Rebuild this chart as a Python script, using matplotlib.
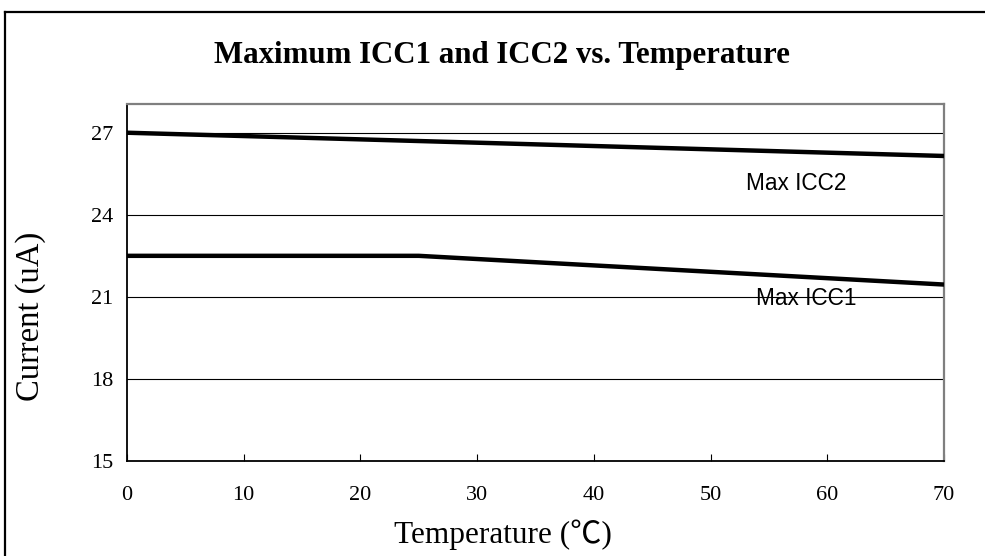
import matplotlib
matplotlib.use("Agg")
import matplotlib.pyplot as plt
from matplotlib.lines import Line2D

# Data
icc1_temps = [0, 25, 70]
icc1_values = [22.5, 22.5, 21.45]
icc2_temps = [0, 70]
icc2_values = [27.0, 26.15]
x_ticks = [0, 10, 20, 30, 40, 50, 60, 70]
y_ticks = [15, 18, 21, 24, 27]

W, H = 985, 556
fig = plt.figure(figsize=(W / 100, H / 100), dpi=100)
fig.patch.set_facecolor("white")

serif = ["Liberation Serif", "DejaVu Serif"]
sans = ["Liberation Sans", "DejaVu Sans"]

ax = fig.add_axes([127 / W, 1 - 461 / H, (944 - 127) / W, (461 - 104) / H])
ax.set_xlim(0, 70)
ax.set_ylim(15, 28.05)

for y in y_ticks[1:]:
    ax.axhline(y, color="black", lw=0.8, zorder=1)

ax.plot(icc2_temps, icc2_values, color="black", lw=3.2, solid_capstyle="butt", zorder=3)
ax.plot(icc1_temps, icc1_values, color="black", lw=3.2, solid_capstyle="butt",
        solid_joinstyle="round", zorder=3)

ax.text(57.3, 25.15, "Max ICC2", fontsize=16.3, family=sans, ha="center", va="center")
ax.text(58.2, 20.95, "Max ICC1", fontsize=16.3, family=sans, ha="center", va="center")

ax.set_xticks(x_ticks)
ax.set_yticks(y_ticks)
ax.set_xticklabels([str(v) for v in x_ticks], family=serif, fontsize=16)
ax.set_yticklabels([str(v) for v in y_ticks], family=serif, fontsize=16)
ax.tick_params(axis="x", direction="in", length=5, width=0.8, pad=18, colors="black")
ax.tick_params(axis="y", length=0, pad=10)

for s in ["left", "bottom"]:
    ax.spines[s].set_color("black")
    ax.spines[s].set_linewidth(1.3)
for s in ["top", "right"]:
    ax.spines[s].set_color("#7f7f7f")
    ax.spines[s].set_linewidth(1.6)

fig.text(502 / W, 1 - 55 / H, "Maximum ICC1 and ICC2 vs. Temperature",
         family=serif, fontsize=22.2, fontweight="bold", ha="center", va="center")
fig.text(503 / W, 1 - 535 / H, "Temperature (\u2103)", family=["Liberation Serif", "Noto Sans CJK TC", "DejaVu Serif"],
         fontsize=22.5, ha="center", va="center")
fig.text(31 / W, 1 - 316 / H, "Current (uA)", family=serif, fontsize=23.5,
         rotation=90, ha="center", va="center")

# figure frame (top and left edges visible)
fig.add_artist(Line2D([5 / W, 5 / W], [0, 1 - 12 / H], transform=fig.transFigure, color="black", lw=1.6))
fig.add_artist(Line2D([5 / W, 1], [1 - 12 / H, 1 - 12 / H], transform=fig.transFigure, color="black", lw=1.6))

fig.savefig("out.png", dpi=100, facecolor="white")
